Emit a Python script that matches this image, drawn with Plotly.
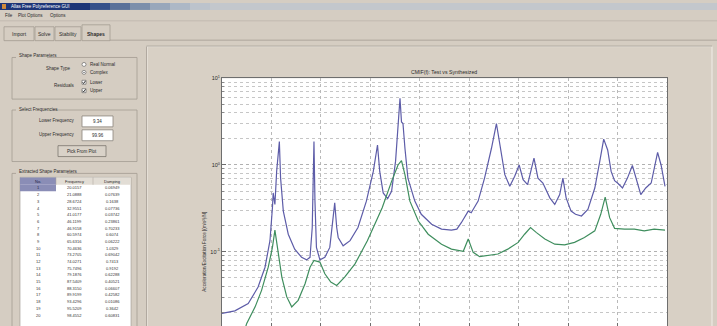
import plotly.graph_objects as go

W, H = 717, 326
FONT = "Liberation Sans, Arial, sans-serif"

# ---------------- data ----------------
freq_blue = [10.0, 12.6, 15.3, 17.3, 18.7, 19.7, 20.2, 20.35, 20.7, 21.05, 21.6, 21.85, 22.4, 23.4,
             24.7, 26.1, 27.1, 27.8, 28.25, 28.6, 28.8, 29.1, 29.8, 30.8, 31.8, 32.4, 32.8, 33.2,
             33.5, 34.5, 35.9, 37.5, 39.2, 40.6, 41.45, 41.9, 42.6, 43.5, 44.3, 45.1, 45.6, 46.0,
             46.3, 46.6, 47.0, 47.6, 49.0, 50.3, 52.4, 54.4, 56.4, 57.5, 58.4, 59.8, 60.4, 61.8,
             63.1, 64.5, 65.5, 66.2, 67.2, 68.2, 69.2, 70.1, 70.9, 71.8, 73.1, 73.9, 74.9, 76.3,
             77.3, 78.3, 78.95, 79.6, 80.6, 81.5, 82.7, 84.0, 85.4, 86.4, 87.2, 88.0, 88.7, 89.4,
             90.0, 91.0, 92.0, 93.0, 93.7, 94.7, 95.7, 96.8, 98.1, 98.8, 99.6]
cmif_blue = [0.0194, 0.0208, 0.0252, 0.0391, 0.0662, 0.134, 0.321, 0.476, 0.351, 0.843, 1.86, 0.708,
             0.294, 0.159, 0.107, 0.0861, 0.0804, 0.0861, 0.190, 1.86, 0.383, 0.112, 0.0804, 0.0861,
             0.112, 0.226, 0.366, 0.190, 0.146, 0.117, 0.134, 0.190, 0.383, 0.843, 1.70, 0.843,
             0.476, 0.410, 0.498, 1.10, 2.64, 5.90, 3.14, 3.01, 1.56, 0.706, 0.383, 0.270, 0.207,
             0.182, 0.177, 0.182, 0.216, 0.294, 0.281, 0.383, 0.706, 1.56, 3.01, 1.70, 0.773,
             0.568, 0.740, 1.00, 0.678, 0.593, 1.20, 0.706, 0.619, 0.418, 0.351, 0.456, 0.706,
             0.418, 0.294, 0.270, 0.258, 0.307, 0.543, 1.10, 1.99, 1.49, 0.843, 0.659, 0.619,
             0.543, 0.706, 0.986, 0.706, 0.456, 0.543, 0.619, 1.40, 1.00, 0.568]

freq_green = [14.5, 15.0, 16.7, 18.0, 19.35, 20.2, 20.7, 21.2, 22.1, 23.1, 24.1, 25.4, 26.8, 27.8,
              28.6, 29.8, 30.8, 32.0, 33.2, 34.8, 36.9, 39.4, 42.4, 44.3, 45.6, 46.3, 47.0, 48.0,
              49.7, 51.7, 54.4, 56.4, 58.8, 59.8, 60.8, 62.1, 63.8, 65.8, 67.8, 69.9, 71.2, 72.4,
              73.6, 75.3, 77.3, 79.3, 81.3, 83.3, 85.4, 86.6, 87.5, 88.4, 89.4, 91.4, 93.4, 95.4,
              97.4, 99.6]
cmif_green = [0.0120, 0.0149, 0.0231, 0.0358, 0.0662, 0.112, 0.177, 0.112, 0.0509, 0.0301, 0.0231,
              0.0275, 0.0427, 0.0662, 0.0794, 0.0759, 0.0556, 0.0447, 0.0408, 0.0509, 0.0723, 0.134,
              0.321, 0.647, 1.00, 1.12, 0.773, 0.383, 0.226, 0.159, 0.122, 0.107, 0.101, 0.140,
              0.0982, 0.0877, 0.0899, 0.0940, 0.107, 0.128, 0.159, 0.190, 0.166, 0.140, 0.122,
              0.120, 0.128, 0.146, 0.174, 0.270, 0.426, 0.247, 0.186, 0.182, 0.182, 0.174, 0.182,
              0.177]

mode_no = [str(i) for i in range(1, 21)]
mode_freq = ["20.0157", "21.0888", "28.6724", "32.9551", "41.0177", "46.1199", "46.9158", "60.5974",
             "65.6316", "70.4636", "73.2705", "74.0271", "75.7496", "79.1876", "87.5409", "88.3150",
             "89.9199", "93.4296", "95.5209", "98.4552"]
mode_damp = ["0.06949", "0.07639", "0.1638", "0.07736", "0.03742", "0.23861", "0.70233", "0.6074",
             "0.06222", "1.0329", "0.69042", "0.7413", "0.9192", "0.62288", "0.40521", "0.06607",
             "0.42582", "0.01086", "0.3642", "0.60831"]

y_tickvals = [0.1, 1, 10]
y_ticktext = ["10<sup>-1</sup>", "10<sup>0</sup>", "10<sup>1</sup>"]

tabs = ["Import", "Solve", "Stability", "Shapes"]
menus = ["File", "Plot Options", "Options"]
lower_freq = "9.34"
upper_freq = "99.96"

# ---------------- helpers (pixel -> paper) ----------------
def px(x):
    return x / W

def py(y):
    return 1 - y / H

shapes = []
annotations = []

def rect(x0, y0, x1, y1, fill=None, line=None, lw=1, kind="rect"):
    shapes.append(dict(type=kind, xref="paper", yref="paper",
                       x0=px(x0), x1=px(x1), y0=py(y1), y1=py(y0),
                       fillcolor=fill if fill else "rgba(0,0,0,0)",
                       line=dict(color=line if line else "rgba(0,0,0,0)", width=lw if line else 0),
                       layer="below"))

def hline(x0, x1, y, color, lw=1):
    shapes.append(dict(type="line", xref="paper", yref="paper", x0=px(x0), x1=px(x1),
                       y0=py(y), y1=py(y), line=dict(color=color, width=lw), layer="below"))

def vline(x, y0, y1, color, lw=1):
    shapes.append(dict(type="line", xref="paper", yref="paper", x0=px(x), x1=px(x),
                       y0=py(y0), y1=py(y1), line=dict(color=color, width=lw), layer="below"))

def check(x, y):
    path = "M %f %f L %f %f L %f %f" % (px(x - 1.4), py(y), px(x - 0.4), py(y + 1.3), px(x + 1.5), py(y - 1.4))
    shapes.append(dict(type="path", xref="paper", yref="paper", path=path,
                       line=dict(color="#222222", width=0.9), layer="below"))

def text(x, y, s, size=5, color="#2a2a2a", anchor="left", angle=0):
    annotations.append(dict(xref="paper", yref="paper", x=px(x), y=py(y), text=s, showarrow=False,
                            xanchor=anchor, yanchor="middle", textangle=angle,
                            font=dict(size=size, color=color, family=FONT)))

BG = "#d5cdc2"
EDGE_D = "#a39c92"
EDGE_L = "#f2eee8"

# title bar
rect(0, 0, 90, 7, fill="#1d3577")
for i, c in enumerate(["#35508a", "#5a7199", "#7c8fab", "#98a7bb", "#adb8c6", "#bcc3cc"]):
    rect(90 + i * 20, 0, 110 + i * 20, 7, fill=c)
rect(210, 0, W, 7, fill="#c3c7cc")
rect(2, 1, 6, 6, fill="#d08a3a")
text(9, 3.6, "Allas Free Polyreference GUI", size=4.5, color="#ffffff")

# menu
mx = [3, 16, 48]
for m, x in zip(menus, mx):
    text(x, 13, m, size=4.5)
hline(0, W, 18, "#c2bab0")

# tabs
tab_x = [(4, 34), (35, 54), (55, 81), (82, 110)]
for (a, b), t in zip(tab_x, tabs):
    sel = t == "Shapes"
    rect(a, 22 if sel else 24, b, 38, fill=BG, line=EDGE_D, lw=0.8)
    text((a + b) / 2, 31, "<b>" + t + "</b>" if sel else t, size=5, anchor="center")
hline(110, W, 37.5, EDGE_D, 0.8)

# left groups
rect(12, 55, 137, 97, line=EDGE_D, lw=0.8)
rect(16, 50, 47, 58, fill=BG)
text(17, 53, "Shape Parameters", size=4.5)
text(72, 66, "Shape Type", size=4.5, anchor="right")
rect(82, 60, 86, 64, fill="#ffffff", line="#555555", lw=0.6, kind="circle")
text(88, 62, "Real Normal", size=4.5)
rect(82, 68, 86, 72, fill="#ffffff", line="#555555", lw=0.6, kind="circle")
rect(83.3, 69.3, 84.7, 70.7, fill="#333333", kind="circle")
text(88, 70, "Complex", size=4.5)
text(77, 83, "Residuals", size=4.5, anchor="right")
rect(82, 78, 86, 82, fill="#ffffff", line="#555555", lw=0.6)
check(84, 80)
text(88, 80, "Lower", size=4.5)
rect(82, 86.5, 86, 90.5, fill="#ffffff", line="#555555", lw=0.6)
check(84, 88.5)
text(88, 88.5, "Upper", size=4.5)

rect(12, 108, 137, 160, line=EDGE_D, lw=0.8)
rect(16, 103, 53, 111, fill=BG)
text(17, 107, "Select Frequencies", size=4.5)
text(77, 119, "Lower Frequency", size=4.5, anchor="right")
rect(82, 114, 113, 125, fill="#ffffff", line="#8a847c", lw=0.8)
text(97.5, 119.5, lower_freq, size=4.5, anchor="center")
text(77, 133, "Upper Frequency", size=4.5, anchor="right")
rect(82, 128, 113, 139, fill="#ffffff", line="#8a847c", lw=0.8)
text(97.5, 133.5, upper_freq, size=4.5, anchor="center")
rect(58, 144, 106, 155, fill="#d9d2c8", line="#7c766e", lw=0.8)
text(82, 149.5, "Pick From Plot", size=4.5, anchor="center")

rect(12, 172, 137, 330, line=EDGE_D, lw=0.8)
rect(16, 167, 67, 175, fill=BG)
text(17, 170.5, "Extracted Shape Parameters", size=4.5)
rect(20, 176, 131, 330, fill="#ffffff", line="#9c968e", lw=0.6)
rect(20, 176, 56, 183.5, fill="#8a8db6")
rect(56, 176, 93, 183.5, fill="#e2ddd5")
rect(93, 176, 131, 183.5, fill="#e2ddd5")
vline(56, 176, 183.5, "#a8a29a", 0.5)
vline(93, 176, 183.5, "#a8a29a", 0.5)
text(38, 179.8, "No.", size=4, anchor="center", color="#1e1e40")
text(74.5, 179.8, "Frequency", size=4, anchor="center")
text(112, 179.8, "Damping", size=4, anchor="center")
rect(20, 183.5, 56, 190, fill="#8a8db6")
for i, (n, f, d) in enumerate(zip(mode_no, mode_freq, mode_damp)):
    yy = 186.7 + i * 6.75
    text(38, yy, n, size=4, anchor="center", color="#1e1e40" if i == 0 else "#333333")
    text(74.5, yy, f, size=4, anchor="center", color="#333333")
    text(112, yy, d, size=4, anchor="center", color="#333333")

# plot panel
rect(147, 44, 712, 330, fill="#d8d0c5", line=EDGE_L, lw=1)
vline(146.5, 44, 330, EDGE_D, 0.8)
hline(146.5, 712, 43.5, EDGE_D, 0.8)
# white plot area (drawn over panel)
rect(222, 76, 667, 330, fill="#ffffff")

text(444, 69.5, "CMIF(f): Test vs Synthesized", size=5.2, anchor="center")
text(205, 251, "Acceleration/Excitation Force [(m/s²)/N]", size=4.6, anchor="center", angle=-90)

# ---------------- figure ----------------
fig = go.Figure()
fig.add_trace(go.Scatter(x=freq_blue, y=cmif_blue, mode="lines", name="CMIF 1",
                         line=dict(color="#5d5ca8", width=1.2), showlegend=False))
fig.add_trace(go.Scatter(x=freq_green, y=cmif_green, mode="lines", name="CMIF 2",
                         line=dict(color="#3f8e5e", width=1.2), showlegend=False))

minor_vals = [m * 10 ** e for e in (-2, -1, 0) for m in range(2, 10)]
y_top_px, decade_px = 76, 87.5
y_lo = 1 - (H - y_top_px) / decade_px

fig.update_layout(
    width=W, height=H, autosize=False,
    margin=dict(l=0, r=0, t=0, b=0),
    paper_bgcolor=BG, plot_bgcolor="#ffffff",
    shapes=shapes, annotations=annotations,
    font=dict(family=FONT, size=5, color="#2a2a2a"),
    xaxis=dict(domain=[px(222), px(667)], range=[10, 100], dtick=10, showticklabels=False,
               showgrid=True, gridcolor="#b9b9b9", griddash="dot", gridwidth=1,
               zeroline=False, showline=True, linecolor="#6e6e6e", linewidth=1, mirror=True,
               ticks="inside", ticklen=3, tickcolor="#6e6e6e"),
    yaxis=dict(domain=[py(H), py(y_top_px)], type="log", range=[y_lo, 1],
               tickmode="array", tickvals=y_tickvals, ticktext=y_ticktext,
               tickfont=dict(size=5.5, color="#2a2a2a"),
               showgrid=True, gridcolor="#b0b0b0", griddash="dot", gridwidth=1,
               zeroline=False, showline=True, linecolor="#6e6e6e", linewidth=1, mirror=True,
               ticks="inside", ticklen=4, tickcolor="#6e6e6e",
               minor=dict(tickmode="array", tickvals=minor_vals, showgrid=True,
                          gridcolor="#c6c6c6", griddash="dot", gridwidth=1,
                          ticks="inside", ticklen=2, tickcolor="#888888")),
)

fig.write_html("out.html", config={"displayModeBar": False},
               post_script="document.body.style.margin='0';document.body.style.overflow='hidden';")
